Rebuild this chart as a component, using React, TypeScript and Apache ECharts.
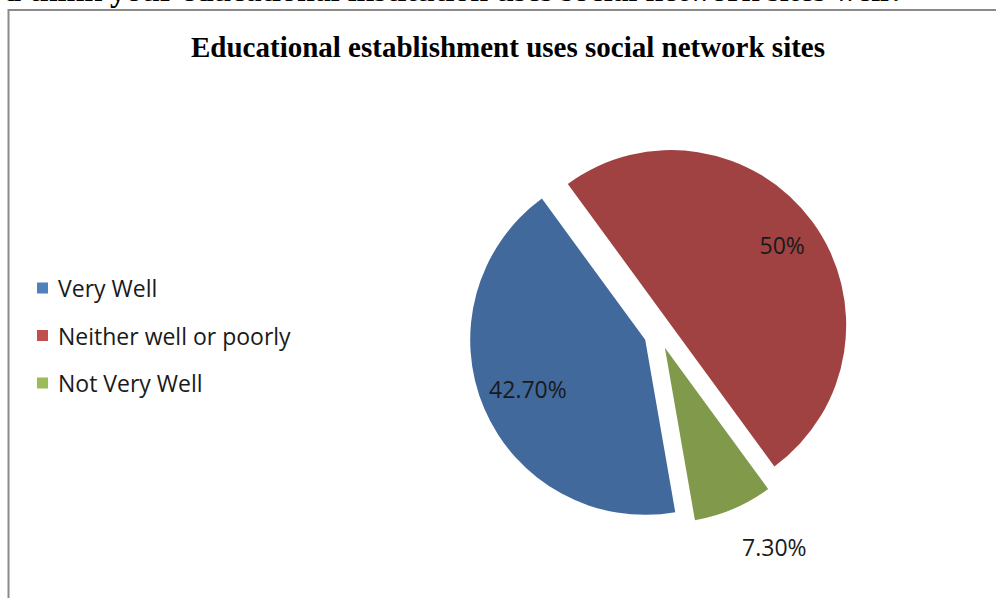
import React, { useEffect, useRef } from "react";
import * as echarts from "echarts";

const categories = ["Very Well", "Neither well or poorly", "Not Very Well"];
const values = [42.7, 50, 7.3];
const valueLabels = ["42.70%", "50%", "7.30%"];
const sliceColors = ["#41699c", "#9f4241", "#80994b"];
const legendColors = ["#4f81bd", "#c0504d", "#9bbb59"];
const chartTitle = "Educational establishment uses social network sites";
const questionText = "d think your educational institution uses social network sites well?";

const labelShift = [
  { dx: -34, dy: 14 },
  { dx: 38, dy: -27 },
  { dx: 74, dy: 116 },
];

export default function App() {
  const ref = useRef<HTMLDivElement>(null);
  useEffect(() => {
    if (!ref.current) return;
    const chart = echarts.init(ref.current, undefined, { renderer: "svg" });
    const sansFont = "'Open Sans', 'Noto Sans', sans-serif";
    chart.setOption({
      animation: false,
      backgroundColor: "#ffffff",
      title: {
        text: chartTitle,
        left: 508,
        top: 32,
        textAlign: "center",
        padding: 0,
        textStyle: {
          fontFamily: "'Liberation Serif', 'Times New Roman', serif",
          fontWeight: "bold",
          fontSize: 29,
          color: "#000000",
        },
      },
      legend: {
        orient: "vertical",
        left: 37,
        top: 274,
        padding: 0,
        itemWidth: 11,
        itemHeight: 11,
        itemGap: 19.5,
        selectedMode: false,
        icon: "rect",
        textStyle: {
          fontFamily: sansFont,
          fontSize: 23,
          lineHeight: 28,
          color: "#1a1a1a",
          padding: [0, 0, 0, 5],
        },
        data: categories.map((name, i) => ({
          name,
          itemStyle: { color: legendColors[i] },
        })),
      },
      graphic: [
        {
          type: "polyline",
          silent: true,
          shape: { points: [[8.5, 598], [8.5, 10], [996, 10]] },
          style: { stroke: "#8a8a8a", lineWidth: 2, fill: "none" },
        },
        {
          type: "text",
          silent: true,
          style: {
            text: questionText,
            x: 905,
            y: -10,
            align: "right",
            verticalAlign: "middle",
            fontFamily: "'Liberation Serif', 'Times New Roman', serif",
            fontWeight: "bold",
            fontSize: 32,
            fill: "#000000",
          },
        },
      ],
      series: [
        {
          type: "pie",
          center: [659, 334],
          radius: 175,
          startAngle: -80.1,
          clockwise: true,
          selectedMode: "multiple",
          selectedOffset: 15,
          avoidLabelOverlap: false,
          label: {
            show: true,
            position: "inside",
            fontFamily: sansFont,
            fontSize: 23,
            color: "#1a1a1a",
            formatter: (p: any) => valueLabels[p.dataIndex],
          },
          labelLine: { show: false },
          labelLayout: (p: any) => labelShift[p.dataIndex],
          emphasis: { disabled: true },
          select: { itemStyle: {} },
          data: categories.map((name, i) => ({
            name,
            value: values[i],
            selected: true,
            itemStyle: { color: sliceColors[i] },
          })),
        },
      ],
    });
    return () => chart.dispose();
  }, []);
  return (
    <div
      ref={ref}
      style={{ position: "absolute", left: 0, top: 0, width: 996, height: 598 }}
    />
  );
}
